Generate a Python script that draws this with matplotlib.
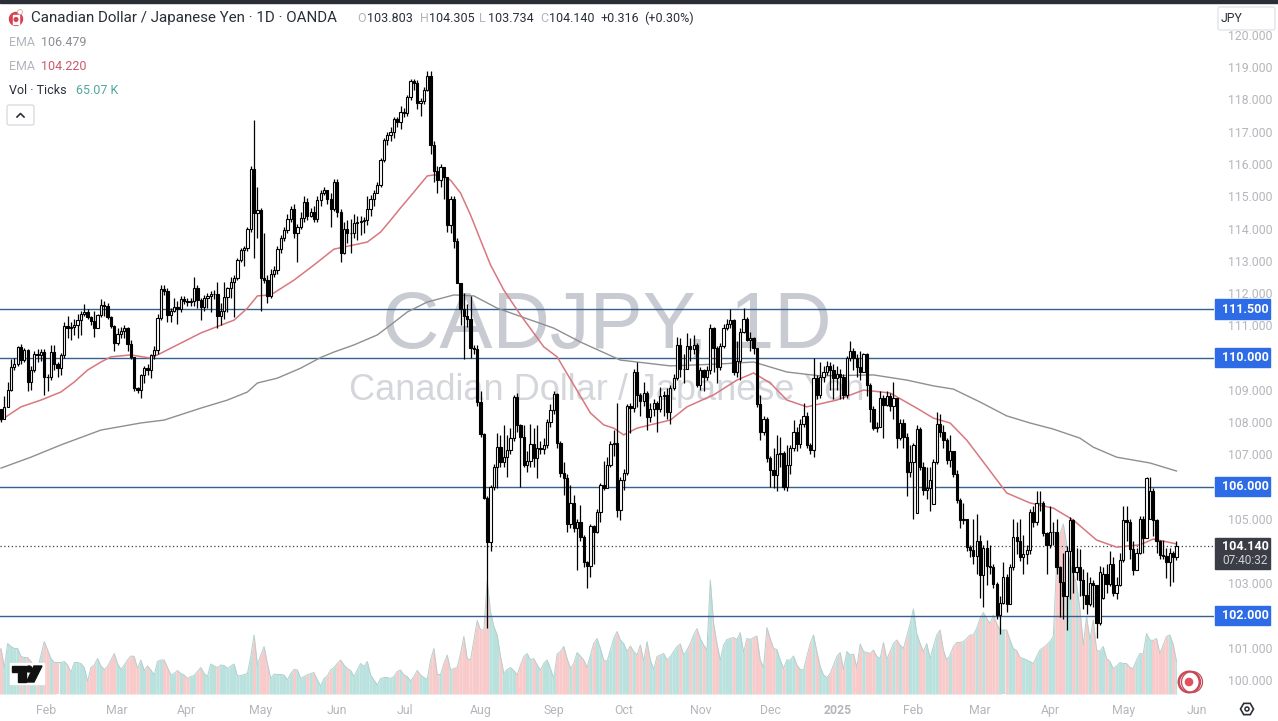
import numpy as np
import matplotlib
matplotlib.use("Agg")
import matplotlib.pyplot as plt
from matplotlib.patches import Rectangle, Circle, Polygon, FancyBboxPatch

plt.rcParams['font.family'] = ['Roboto', 'DejaVu Sans']

# daily closes
closes = [108.1,108.45,108.98,109.71,109.81,110.33,109.92,110.23,109.25,109.6,
110.12,110.07,110.18,109.4,109.38,110.18,109.81,109.66,110.07,110.97,
110.9,110.95,111.0,111.16,111.36,111.4,111.26,111.12,110.93,111.31,
111.64,111.6,111.26,110.98,110.45,110.72,110.82,110.92,110.41,110.02,
109.04,108.99,109.45,109.66,109.61,110.07,110.23,111.21,112.11,112.07,
111.31,111.45,111.57,111.49,111.81,111.76,111.73,111.75,112.14,111.78,
111.57,111.86,111.9,111.96,111.98,111.28,111.45,111.88,112.14,112.35,
112.45,113.02,113.33,113.38,113.97,115.86,114.47,114.57,112.45,112.4,
111.9,112.6,112.7,113.36,113.69,113.95,114.31,114.59,113.87,114.05,
114.34,114.83,114.38,114.52,114.31,114.88,115.09,115.19,114.93,114.62,
115.45,114.52,113.25,114.0,113.85,113.87,114.16,114.21,114.24,114.26,
114.6,114.93,115.09,115.34,116.12,116.74,116.89,117.0,117.39,117.31,
117.6,117.57,118.08,118.58,118.5,117.88,117.96,118.31,118.73,
116.6,115.77,115.5,115.9,115.6,114.1,114.9,113.6,112.3,111.5,
111.3,111.2,110.3,110.25,108.63,107.62,105.63,104.28,106.0,106.61,
107.23,106.76,106.9,107.13,107.5,108.76,107.9,107.55,106.66,106.8,
107.33,106.87,107.18,107.15,107.3,108.0,108.37,108.88,107.35,106.42,
106.25,104.85,105.5,104.7,104.9,104.44,103.66,103.53,104.77,104.6,
105.2,106.04,105.95,106.66,107.33,107.35,105.27,106.2,106.42,108.49,
108.43,109.55,108.85,108.65,108.9,108.16,108.4,108.6,108.4,108.8,
108.85,108.32,109.05,109.35,110.4,109.65,109.65,110.35,110.25,110.38,
109.14,109.6,109.4,109.6,110.93,110.3,109.7,110.35,110.9,111.05,
111.15,109.55,109.9,110.8,111.2,110.55,110.6,110.3,108.57,107.7,
108.1,106.87,106.5,106.35,107.0,107.05,105.99,106.66,107.18,107.7,
107.33,107.95,108.2,107.28,107.13,109.35,108.85,109.4,109.55,109.75,
109.6,109.35,109.5,109.4,108.85,110.0,110.2,110.0,109.7,
109.56,110.12,109.14,108.4,107.8,107.85,108.73,108.52,108.8,108.5,
108.73,107.49,107.96,107.55,106.45,106.76,107.28,107.77,106.61,105.89,
105.95,106.2,106.76,107.93,107.7,107.45,106.82,107.1,106.4,105.58,
104.96,105.0,104.13,104.03,103.85,104.3,103.25,104.1,103.55,103.5,
102.99,102.01,102.4,103.2,102.35,103.5,104.44,104.3,103.82,103.9,
104.03,105.22,104.9,105.48,105.5,104.55,104.2,104.6,104.6,103.5,
103.05,102.6,104.0,104.96,103.35,103.5,103.1,102.65,102.37,103.0,
102.95,101.77,103.35,103.3,102.97,103.6,102.7,102.95,103.72,104.95,
104.9,104.05,103.42,103.95,105.0,104.4,106.25,105.85,104.95,104.3,
103.87,103.85,103.65,103.95,103.8,104.14]

highs = [108.4,108.8,109.25,109.95,110.0,110.35,110.42,110.3,110.25,109.75,
110.2,110.25,110.25,110.25,109.5,110.4,110.4,109.85,110.15,111.1,
111.3,111.1,111.2,111.35,111.45,111.65,111.5,111.3,111.45,111.35,
111.8,111.75,111.7,111.3,111.0,110.9,110.95,111.0,110.95,110.55,
110.0,109.1,109.5,109.75,109.8,110.1,110.35,111.35,112.25,112.25,
112.15,111.55,111.85,111.75,111.9,111.9,111.85,111.85,112.5,112.25,
111.85,111.95,112.0,112.05,112.1,112.35,111.7,112.35,112.2,112.5,
112.55,113.1,113.4,113.45,114.05,115.95,117.35,115.3,114.65,113.85,
112.55,112.75,112.85,113.45,113.8,114.05,114.45,114.7,114.75,114.15,
114.5,115.0,114.95,114.65,114.7,115.0,115.2,115.3,115.2,115.1,
115.55,115.55,114.6,114.2,114.25,114.3,114.45,114.4,114.4,114.35,
115.0,115.05,115.2,115.45,116.2,116.8,117.0,117.15,117.45,117.45,
117.8,117.75,118.15,118.65,118.65,118.6,118.05,118.4,118.87,
118.87,116.7,115.95,116.0,115.75,115.05,115.0,115.0,113.7,112.3,
112.0,111.65,111.9,110.4,110.4,108.95,107.65,105.7,106.05,106.7,
107.65,107.6,107.9,107.6,107.8,108.85,108.9,107.95,107.9,107.1,
107.95,107.8,107.9,107.4,107.5,108.1,108.55,108.97,108.9,107.4,
106.75,106.4,106.05,105.75,105.0,105.42,104.5,103.7,104.85,104.8,
105.3,106.1,106.8,106.9,107.4,107.75,108.6,106.3,106.55,108.55,
108.6,109.65,109.85,108.9,109.25,108.95,108.6,108.7,108.65,109.1,
108.95,109.05,109.15,109.5,110.65,110.6,110.1,110.75,110.6,110.7,
110.45,109.7,109.65,109.75,111.05,110.95,110.35,110.45,111.05,111.2,
111.5,111.2,110.5,110.9,111.55,111.25,110.8,110.65,110.3,108.85,
108.2,108.15,106.95,107.2,107.6,107.55,107.1,107.3,107.3,108.05,
107.85,108.1,108.6,108.3,107.35,110.0,109.45,109.85,109.75,109.9,
109.85,109.8,109.75,109.65,109.5,110.05,110.5,110.3,110.1,
110.2,110.15,110.15,109.2,108.5,108.0,108.95,108.85,108.95,108.9,
109.25,108.75,108.1,108.1,107.65,107.3,107.35,107.9,107.85,106.75,
106.6,106.6,106.85,108.3,108.25,107.9,107.5,107.6,107.1,106.5,
105.65,105.5,105.0,104.2,105.0,105.15,104.5,104.2,104.35,104.2,
103.6,103.05,102.6,103.65,103.3,103.6,105.0,104.9,105.0,104.5,
104.2,105.3,105.4,105.85,105.85,105.55,104.6,105.4,104.9,105.0,
103.55,103.95,104.15,105.05,105.0,104.1,104.05,103.45,103.35,103.2,
103.1,102.65,103.55,103.5,103.6,104.0,103.8,103.2,103.95,105.4,
105.4,105.0,104.3,104.1,105.1,105.1,106.3,106.3,105.95,105.0,
104.35,104.35,104.1,104.1,104.0,104.305]

lows = [108.0,108.1,108.45,108.95,109.6,109.75,109.8,109.85,108.95,109.0,
109.55,109.85,109.9,108.85,108.95,109.3,109.6,109.4,109.45,110.0,
110.6,110.55,110.7,110.6,110.7,111.3,111.2,111.0,110.65,110.9,
111.25,111.3,111.2,110.9,110.2,110.4,110.6,110.6,110.2,109.95,
108.95,108.9,108.75,109.2,109.45,109.35,109.95,110.1,111.15,111.95,
111.1,111.1,111.4,111.05,111.4,111.65,111.6,111.6,111.6,111.55,
111.15,111.45,111.55,111.4,111.8,110.9,111.0,111.2,111.4,111.85,
111.25,112.4,112.95,112.85,113.3,113.9,113.1,113.7,111.45,112.3,
111.7,111.85,112.5,112.6,113.25,113.6,113.85,114.2,113.7,112.95,
114.0,114.2,114.25,114.35,114.2,114.2,114.7,115.05,114.75,114.05,
114.55,114.35,112.95,113.2,113.55,113.25,113.7,113.65,113.8,113.85,
114.1,114.4,114.7,115.1,115.3,116.05,116.6,116.7,116.8,117.15,
117.1,117.45,117.5,118.0,118.3,117.7,117.5,117.85,118.25,
116.3,115.45,115.1,115.3,114.9,113.9,113.85,113.4,112.6,111.0,
109.95,110.95,110.0,110.1,108.5,107.55,105.6,101.6,104.0,105.9,
105.95,106.6,106.6,106.3,107.0,107.4,107.7,106.0,106.6,106.45,
106.6,106.6,106.25,107.0,107.0,107.2,107.85,108.25,107.2,106.3,
105.75,104.6,104.7,104.6,103.4,104.3,103.5,102.85,103.2,103.6,
104.55,104.9,105.9,105.95,106.6,106.95,105.05,104.95,105.9,106.35,
107.65,108.3,108.45,108.2,108.5,107.75,108.0,108.2,107.7,108.3,
108.2,108.1,107.95,109.0,109.3,109.4,109.2,109.9,109.9,110.1,
109.1,109.0,108.95,109.3,109.5,109.55,109.2,109.6,110.3,110.85,
110.9,109.45,109.4,109.3,110.75,110.5,110.2,110.1,108.45,107.45,
107.6,106.75,106.0,105.95,105.85,106.6,105.9,105.85,106.4,107.1,
107.1,107.2,107.85,107.2,107.0,106.9,108.7,108.75,109.25,109.45,
109.0,108.7,109.0,108.7,108.7,108.75,109.9,109.6,109.4,
109.3,109.55,108.8,108.0,107.75,107.7,107.95,107.5,108.5,108.35,
108.1,107.2,107.45,107.2,105.7,106.3,105.0,107.2,106.5,105.75,
105.6,105.25,106.2,106.7,107.55,107.2,106.7,106.6,106.3,105.5,
104.7,104.85,104.0,103.8,103.6,103.3,102.55,102.27,102.95,103.3,
102.85,101.9,101.44,102.35,102.1,102.35,103.4,103.9,103.7,103.3,
103.6,103.9,104.75,104.8,105.25,104.45,103.3,104.1,104.2,103.3,
101.95,101.9,101.55,102.5,102.7,103.1,102.6,102.2,102.05,102.3,
102.25,101.29,101.7,102.5,102.7,102.9,102.6,102.5,102.9,103.65,
104.3,103.75,103.25,103.4,103.9,103.95,104.95,105.5,104.45,103.95,
103.75,103.75,103.15,102.9,103.05,103.734]

# the few candles whose open is clearly away from the previous close
open_gaps = {0: 108.4, 275: 105.18, 280: 105.47, 331: 102.55, 345: 105.0, 353: 103.803}

volume_k = [91,53,101,95,91,91,75,73,73,65,55,51,78,105,88,71,63,63,63,65,
58,43,63,63,61,53,25,53,58,71,56,49,55,68,81,61,49,58,68,76,
75,51,68,47,56,48,38,65,68,68,53,38,41,47,41,38,31,35,37,45,
53,41,35,60,56,53,58,57,51,56,60,36,37,39,41,75,118,58,78,95,
61,31,40,39,39,38,28,41,49,48,31,35,38,41,43,28,16,31,36,48,
53,61,68,58,51,47,35,48,61,55,65,38,28,18,31,33,33,31,35,45,
48,38,35,26,35,47,38,33,29,68,91,39,39,61,78,48,51,53,81,115,
71,68,108,147,128,128,225,165,135,118,75,41,49,53,47,38,58,75,81,68,
71,58,48,61,68,51,31,80,85,95,71,51,61,83,76,68,53,78,101,111,
91,68,65,88,111,125,108,101,85,96,85,78,98,65,105,68,49,75,78,81,
68,75,85,95,100,78,88,101,118,131,111,98,88,228,141,101,68,98,109,111,
113,109,123,83,111,109,113,116,68,53,133,111,91,89,68,51,68,68,76,58,
49,48,75,101,118,85,55,38,33,41,58,75,83,49,85,78,80,53,100,85,
83,81,88,75,71,103,69,85,101,108,98,91,115,141,170,121,101,85,101,71,
95,118,128,88,68,78,95,103,103,105,111,118,118,131,151,163,151,141,158,141,
128,128,128,108,91,87,73,71,68,65,61,75,88,93,98,105,115,260,320,340,
300,260,240,220,170,98,155,108,148,88,85,95,71,65,51,56,63,61,61,53,
51,68,81,80,121,108,107,111,81,98,115,118,100,65]

ema50_bars = [0,6,12,18,22,26,30,33,39,45,47,60,70,74,77,81,88,94,100,110,114,117,120,124,128,130,132,135,138,141,144,147,151,156,
163,167,172,177,181,184,187,191,201,206,214,221,226,231,236,242,251,259,267,275,280,285,290,295,302,309,316,322,329,335,342,346,353]
ema50_vals = [108.06,108.47,108.68,108.93,109.24,109.61,109.86,110.02,110.08,109.98,110.08,110.76,111.16,111.53,111.91,111.94,112.4,112.87,113.36,113.58,113.89,114.26,114.64,115.13,115.63,115.66,115.66,115.5,115.1,114.42,113.64,112.87,112.09,111.32,
110.33,110.02,109.15,108.28,107.91,107.81,107.6,107.81,108.06,108.47,108.84,109.3,109.52,109.21,108.68,108.47,108.68,108.99,108.9,108.43,108.12,107.97,107.44,106.76,105.8,105.49,105.33,104.96,104.34,104.12,104.19,104.37,104.22]

ema200_bars = [0,9,18,30,42,49,60,68,74,77,83,90,96,100,106,113,117,122,128,136,142,149,166,174,186,201,216,226,236,246,262,272,280,286,294,302,309,316,324,328,335,345,353]
ema200_vals = [106.57,106.91,107.29,107.75,107.97,108.06,108.43,108.68,108.93,109.21,109.36,109.67,110.0,110.17,110.39,110.7,111.01,111.41,111.72,111.94,111.91,111.53,110.91,110.48,109.92,109.74,109.8,109.86,109.55,109.43,109.46,109.3,109.12,109.02,108.62,108.19,107.97,107.78,107.5,107.22,106.91,106.73,106.48]

levels = [111.5, 110.0, 106.0, 102.0]
level_labels = ["111.500", "110.000", "106.000", "102.000"]
last_price = 104.14
month_bars = [13.5,34.7,55.8,77.8,101,121.3,144,166,187,210,231,251.4,274,294,315,337,359]
month_labels = ["Feb","Mar","Apr","May","Jun","Jul","Aug","Sep","Oct","Nov","Dec","2025","Feb","Mar","Apr","May","Jun"]
# 102, 104, 106 and 110 sit under the price flags
price_ticks = [100,101,103,105,107,108,109,111,112,113,114,115,116,117,118,119,120]

W, H = 1278, 721
PANE_R, PANE_B = 1214, 697
BAR_PX = 3.33

n = min(len(closes), len(highs), len(lows), len(volume_k))
closes = np.array(closes[:n])
highs = np.array(highs[:n])
lows = np.array(lows[:n])
volume_k = np.array(volume_k[:n])
idx = np.arange(n)
opens = np.r_[closes[0], closes[:-1]]
for k, v in open_gaps.items():
    if k < n:
        opens[k] = v
opens[-1] = 103.803

fig = plt.figure(figsize=(W / 100, H / 100), dpi=100, facecolor="white")
rect = [0, 1 - PANE_B / H, PANE_R / W, PANE_B / H]
xlim = (-1 / BAR_PX, (PANE_R - 1) / BAR_PX)

# watermark goes behind everything
back = fig.add_axes([0, 0, 1, 1], zorder=0)
back.set_xlim(0, W)
back.set_ylim(H, 0)
back.axis("off")
back.text(607, 328, "CADJPY, 1D", ha="center", va="center", fontsize=57.3,
          family=["Liberation Sans"], color="#c9cbd3")
back.text(607, 390, "Canadian Dollar / Japanese Yen", ha="center", va="center", fontsize=26,
          family=["Liberation Sans"], color="#d4d6dc")

# volume pane, 2K per pixel above the baseline
vol = fig.add_axes(rect, zorder=1)
vol.patch.set_alpha(0)
vol.set_xlim(*xlim)
vol.set_ylim(-6, 1388)
vol.axis("off")
mid = (volume_k[1:] + volume_k[:-1]) / 2
for i in idx:
    up = closes[i] >= opens[i]
    xs = [i - 0.5, i, i + 0.5]
    left = mid[i - 1] if i > 0 else volume_k[0]
    right = mid[i] if i < n - 1 else volume_k[-1]
    if i == n - 1:
        xs = [i - 0.5, i]
        ys = [left, volume_k[i]]
    else:
        ys = [left, volume_k[i], right]
    vol.fill_between(xs, 0, ys, color="#b9e1dd" if up else "#f8caca", lw=0)
vol.plot(idx, volume_k, color="#b5cfcd", lw=0.7)

ax = fig.add_axes(rect, zorder=2)
ax.patch.set_alpha(0)
ax.set_xlim(*xlim)
ax.set_ylim(110 - (PANE_B - 357.5) / 32.25, 110 + 357.5 / 32.25)
for s in ax.spines.values():
    s.set_visible(False)

for lv in levels:
    ax.axhline(lv, color="#36618f", lw=1.0, zorder=2)
ax.axhline(last_price, color="#3a3f4a", lw=0.9, ls=(0, (1, 2)), zorder=2)

ax.plot(ema200_bars, ema200_vals, color="#8f8f8f", lw=1.0, zorder=3)
ax.plot(ema50_bars, ema50_vals, color="#d9777f", lw=1.1, zorder=3)

# candles
ax.vlines(idx, np.minimum(lows, np.minimum(opens, closes)), np.maximum(highs, np.maximum(opens, closes)),
          color="black", lw=0.9, zorder=4)
up = closes >= opens
ax.bar(idx, closes - opens, bottom=opens, width=0.68,
       color=np.where(up, "white", "black").tolist(), edgecolor="black", lw=0.8, zorder=5)

ax.yaxis.tick_right()
ax.set_yticks(price_ticks)
ax.set_yticklabels([f"{p}.000" for p in price_ticks])
ax.tick_params(axis="y", length=0, pad=10, labelsize=8.8, labelcolor="#b4b6bb")
ax.set_xticks(month_bars)
ax.set_xticklabels(month_labels)
ax.tick_params(axis="x", length=0, pad=5, labelsize=8.8, labelcolor="#b4b6bb")
ax.get_xticklabels()[11].set_fontweight("bold")

ytr = ax.get_yaxis_transform()
for lv, lab in zip(levels, level_labels):
    ax.add_patch(Rectangle((1.0008, lv - 0.31), 0.0453, 0.62, transform=ytr, color="#2e6be6",
                           clip_on=False, zorder=6))
    ax.text(1.0255, lv, lab, transform=ytr, ha="center", va="center", color="white",
            fontsize=9, fontweight="bold", zorder=7)
ax.add_patch(Rectangle((1.0008, last_price - 0.71), 0.0453, 0.96, transform=ytr, color="#3a3d46",
                       clip_on=False, zorder=6))
ax.text(1.0255, last_price, "104.140", transform=ytr, ha="center", va="center", color="white",
        fontsize=9, fontweight="bold", zorder=7)
ax.text(1.0255, last_price - 0.45, "07:40:32", transform=ytr, ha="center", va="center", color="#d0d2d6",
        fontsize=8.6, zorder=7)

# header, buttons and logos, in screen pixels
top = fig.add_axes([0, 0, 1, 1], zorder=3)
top.patch.set_alpha(0)
top.set_xlim(0, W)
top.set_ylim(H, 0)
top.axis("off")
top.add_patch(Rectangle((0, 0), W, 3, color="#2b2e36"))

top.add_patch(Circle((16, 19), 6.5, color="#d8404e"))
top.add_patch(Rectangle((13, 15), 6, 9, color="white"))
top.add_patch(Circle((16, 19.5), 1.8, color="#d8404e"))
top.add_patch(Circle((20, 12), 2.5, fc="white", ec="#d9a0a5", lw=0.6))

DARK = "#2a2e39"
PALE = "#b2b5be"
top.text(31, 18, "Canadian Dollar / Japanese Yen · 1D · OANDA", va="center", fontsize=10.9, color=DARK)
for x_l, x_v, l, v in [(357, 367, "O", "103.803"), (420, 429, "H", "104.305"),
                       (479, 488, "L", "103.734"), (540, 549, "C", "104.140")]:
    top.text(x_l, 18, l, va="center", fontsize=9, color=PALE)
    top.text(x_v, 18, v, va="center", fontsize=9, color=DARK)
top.text(600, 18, "+0.316", va="center", fontsize=9, color=DARK)
top.text(644, 18, "(+0.30%)", va="center", fontsize=9, color=DARK)

top.text(9, 42, "EMA", va="center", fontsize=9, color=PALE)
top.text(41, 42, "106.479", va="center", fontsize=9, color="#8b8d92")
top.text(9, 66, "EMA", va="center", fontsize=9, color=PALE)
top.text(41, 66, "104.220", va="center", fontsize=9, color="#c85a6a")
top.text(9, 90, "Vol · Ticks", va="center", fontsize=9, color=DARK)
top.text(76, 90, "65.07 K", va="center", fontsize=9, color="#4fa89d")

top.add_patch(FancyBboxPatch((7, 105), 27, 20, boxstyle="round,pad=0,rounding_size=2",
                             fc="white", ec="#d6d8dd", lw=0.9))
top.plot([17, 20.5, 24], [117, 113.5, 117], color=DARK, lw=1.2)

top.add_patch(FancyBboxPatch((1218, 7), 57, 23, boxstyle="round,pad=0,rounding_size=2",
                             fc="white", ec="#e0e2e6", lw=0.9))
top.text(1232, 18.5, "JPY", ha="center", va="center", fontsize=8.8, color=DARK)

# TradingView mark
top.add_patch(Rectangle((10, 663), 34, 21, color="white"))
top.add_patch(Polygon([(12, 666), (26, 666), (26, 682), (18, 682), (18, 672), (12, 672)], color="#111111"))
top.add_patch(Circle((29, 669), 3, color="#111111"))
top.add_patch(Polygon([(34, 666), (42, 666), (34, 682), (26.5, 682)], color="#111111"))

# realtime target near the last bar
for cx, lw in [(1192, 0.9), (1190, 0.9), (1189, 1.4)]:
    top.add_patch(Circle((cx, 682), 10.5, fc="none", ec="#c64a55", lw=lw))
top.add_patch(Circle((1189, 682), 3.6, color="#e2505c"))

# settings hexagon
ang = np.deg2rad(np.arange(0, 360, 60))
top.add_patch(Polygon(np.c_[1247 + 6.5 * np.cos(ang), 709 + 6.5 * np.sin(ang)], fc="none", ec=DARK, lw=1.2))
top.add_patch(Circle((1247, 709), 2, fc="none", ec=DARK, lw=1.1))

fig.savefig("out.png", dpi=100)
